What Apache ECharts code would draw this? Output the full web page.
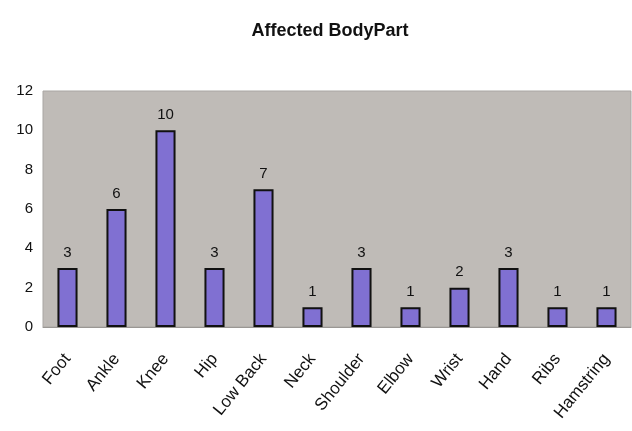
<!DOCTYPE html>
<html>
<head>
<meta charset="utf-8">
<script src="https://cdn.jsdelivr.net/npm/echarts@6/dist/echarts.min.js"></script>
<style>
  html, body { margin: 0; padding: 0; background: #fff; }
  #chart { width: 632px; height: 431px; }
</style>
</head>
<body>
<div id="chart"></div>
<script>
// данные графика
const bodyParts = ["Foot", "Ankle", "Knee", "Hip", "Low Back", "Neck", "Shoulder", "Elbow", "Wrist", "Hand", "Ribs", "Hamstring"];
const counts = [3, 6, 10, 3, 7, 1, 3, 1, 2, 3, 1, 1];
const yTicks = [0, 2, 4, 6, 8, 10, 12];

const chart = echarts.init(document.getElementById("chart"));

const option = {
    backgroundColor: "#ffffff",
    title: {
        text: "Affected BodyPart",
        left: 325,
        textAlign: "center",
        top: 17,
        textStyle: {
            fontFamily: "Liberation Sans, Arial",
            fontWeight: "bold",
            fontSize: 18,
            color: "#111"
        }
    },
    grid: {
        left: 43,
        right: 1,
        top: 91,
        bottom: 104,
        show: true,
        backgroundColor: "#bfbbb7",
        borderColor: "#a9a6a3",
        borderWidth: 1
    },
    xAxis: {
        type: "category",
        data: bodyParts,
        axisTick: { show: false },
        axisLine: { lineStyle: { color: "#9a9794" } },
        axisLabel: {
            rotate: 51,
            interval: 0,
            margin: 29,
            fontFamily: "Liberation Sans, Arial",
            fontSize: 17,
            color: "#111"
        }
    },
    yAxis: {
        type: "value",
        min: yTicks[0],
        max: yTicks[yTicks.length - 1],
        interval: 2,
        splitLine: { show: false },
        axisLine: { show: false },
        axisTick: { show: false },
        axisLabel: {
            margin: 10,
            fontFamily: "Liberation Sans, Arial",
            fontSize: 15,
            color: "#111"
        }
    },
    series: [{
        type: "bar",
        data: counts,
        barWidth: "41%",
        itemStyle: {
            color: "#8070d2",
            borderColor: "#111",
            borderWidth: 2
        },
        label: {
            show: true,
            position: "top",
            distance: 8,
            fontFamily: "Liberation Sans, Arial",
            fontSize: 15,
            color: "#111"
        }
    }]
};

chart.setOption(option);
</script>
</body>
</html>
